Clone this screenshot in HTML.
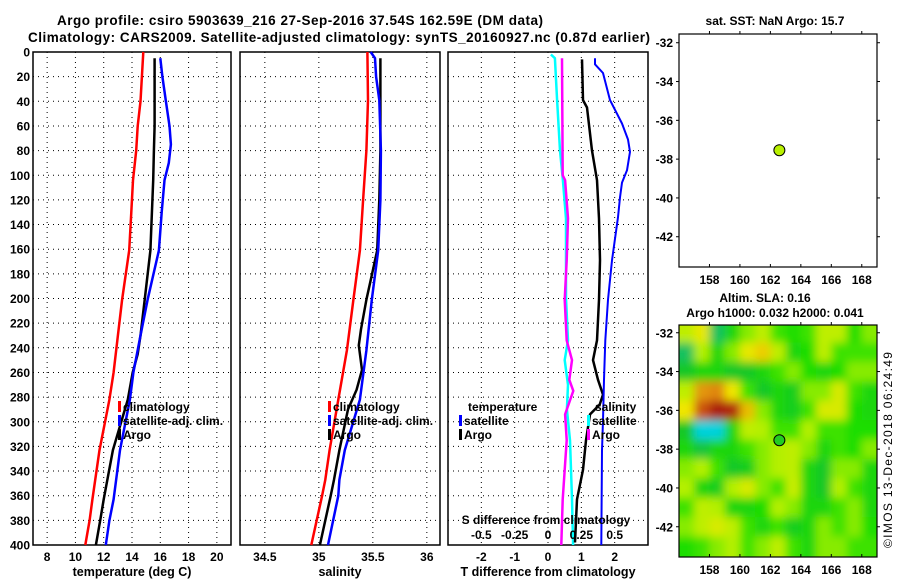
<!DOCTYPE html>
<html><head><meta charset="utf-8">
<style>
html,body{margin:0;padding:0;background:#fff;}
svg{display:block;font-family:"Liberation Sans",sans-serif;font-weight:bold;}
</style></head>
<body>
<svg id="fig" width="900" height="580" viewBox="0 0 900 580" xmlns="http://www.w3.org/2000/svg">
<defs>
<filter id="blur" filterUnits="userSpaceOnUse" x="650" y="295" width="250" height="285"><feGaussianBlur stdDeviation="4.5"/></filter>
<clipPath id="clipMap"><rect x="679" y="325" width="198" height="232"/></clipPath>
</defs>
<text x="57" y="25" font-size="13.5" textLength="486">Argo profile: csiro 5903639_216 27-Sep-2016 37.54S 162.59E (DM data)</text>
<text x="28" y="42" font-size="13.5" textLength="622">Climatology: CARS2009. Satellite-adjusted climatology: synTS_20160927.nc (0.87d earlier)</text>
<text x="775" y="25" font-size="12" text-anchor="middle">sat. SST: NaN Argo: 15.7</text>
<text x="765" y="302" font-size="12" text-anchor="middle">Altim. SLA: 0.16</text>
<text x="775" y="317" font-size="12" text-anchor="middle">Argo h1000: 0.032 h2000: 0.041</text>
<text transform="translate(892,548) rotate(-90)" font-size="12" font-weight="normal" textLength="196">©IMOS 13-Dec-2018 06:24:49</text>
<g id="root"></g>
</svg>
<script>
// ---------- data ----------
const depthTicks = [0,20,40,60,80,100,120,140,160,180,200,220,240,260,280,300,320,340,360,380,400];
const tTicks = [8,10,12,14,16,18,20];
const sTicks = [34.5,35,35.5,36];
const dTicks = [-2,-1,0,1,2];
const sdTickLabels = ["-0.5","-0.25","0","0.25","0.5"];

const tempClimDepth = [0,20,40,60,80,104,130,161,201,230,260,282,323,363,380,400];
const tempClimVal   = [14.8,14.7,14.6,14.4,14.3,14.07,13.95,13.8,13.3,13.0,12.7,12.4,11.7,11.2,11.0,10.7];
const tempArgoDepth = [5,60,80,104,161,201,230,245,260,282,323,363,380,400];
const tempArgoVal   = [15.6,15.6,15.55,15.5,15.3,14.9,14.6,14.4,14.05,13.7,12.65,12.0,11.75,11.45];
const tempSatDepth  = [5,20,40,60,75,90,104,130,161,201,230,260,282,323,363,380,400];
const tempSatVal    = [16.0,16.15,16.4,16.65,16.75,16.6,16.3,16.1,15.9,15.1,14.6,14.1,13.85,13.15,12.7,12.4,12.15];

const salClimDepth = [0,39,80,120,161,201,242,282,323,347,360,400];
const salClimVal   = [35.45,35.455,35.44,35.41,35.38,35.32,35.26,35.18,35.1,35.06,35.03,34.93];
const salArgoDepth = [5,39,80,120,161,181,201,225,238,258,274,290,323,347,360,400];
const salArgoVal   = [35.57,35.57,35.57,35.56,35.54,35.49,35.44,35.39,35.37,35.4,35.35,35.27,35.19,35.14,35.11,35.01];
const salSatDepth  = [0,5,20,39,80,120,161,201,242,282,323,347,360,400];
const salSatVal    = [35.48,35.52,35.53,35.56,35.575,35.57,35.55,35.49,35.44,35.38,35.24,35.19,35.18,35.085];

const dTArgoDepth = [6,39,45,80,104,135,169,201,234,250,266,278,286,294,315,339,363,398];
const dTArgoVal   = [1.02,1.05,1.17,1.32,1.47,1.53,1.56,1.53,1.47,1.35,1.5,1.65,1.55,1.26,1.14,1.05,0.87,0.81];
const dTSatDepth  = [5,10,17,39,58,71,81,96,106,118,134,169,201,234,266,299,323,400];
const dTSatVal    = [1.41,1.41,1.65,1.86,2.22,2.4,2.46,2.37,2.22,2.16,2.1,1.92,1.8,1.72,1.68,1.65,1.62,1.6];
const dSArgoDepth = [5,100,104,135,169,201,234,250,266,275,294,315,363,400];
const dSArgoVal   = [0.105,0.11,0.128,0.15,0.14,0.125,0.14,0.18,0.16,0.19,0.128,0.14,0.11,0.1];
const dSSatDepth  = [2,5,39,80,104,135,200,234,250,270,290,315,363,400];
const dSSatVal    = [0.022,0.052,0.068,0.09,0.112,0.135,0.135,0.15,0.125,0.15,0.142,0.165,0.18,0.188];

const mapLons = [156.5,157.5,158.5,159.5,160.5,161.5,162.5,163.5,164.5,165.5,166.5,167.5,168.5];
const mapLats = [-32,-33,-34,-35,-36,-37,-38,-39,-40,-41,-42,-43];
const slaGrid = [
 [0.2,0.28,-0.05,0.05,0.15,0.2,0.1,0.08,0.1,0.2,0.2,0.08,0.15],
 [-0.05,0.18,0.05,0.15,0.28,0.33,0.2,0.05,0.08,0.2,0.1,0.1,0.1],
 [0.0,0.05,0.05,0.0,0.0,0.05,0.1,0.15,0.08,0.05,0.08,0.15,0.15],
 [0.2,0.4,0.42,0.3,0.1,0.0,0.05,0.02,0.15,0.15,0.25,0.1,0.05],
 [0.3,0.5,0.6,0.58,0.35,0.15,0.05,0.02,0.1,0.25,0.25,0.08,0.05],
 [0.0,-0.2,-0.2,0.05,0.2,0.18,0.1,0.1,0.18,0.1,0.1,0.08,0.08],
 [0.05,-0.02,0.05,0.05,0.1,0.15,0.18,0.2,0.15,0.05,0.1,0.08,0.15],
 [0.15,0.18,0.1,0.0,0.02,0.15,0.18,0.2,0.05,0.0,0.15,0.15,0.05],
 [0.18,0.05,0.02,0.18,0.25,0.15,0.1,0.22,0.05,0.0,0.18,0.1,0.05],
 [0.1,0.2,0.18,0.05,0.05,0.08,0.18,0.15,0.05,0.05,0.1,0.15,0.05],
 [0.15,0.2,0.25,0.2,0.1,0.05,0.1,0.02,0.05,0.15,0.1,0.15,0.08],
 [0.08,0.1,0.15,0.18,0.1,0.15,0.2,0.1,0.05,0.15,0.15,0.1,0.1]
];
const argoLon = 162.59;
const argoLat = -37.54;
const lonTicks = [158,160,162,164,166,168];
const latTicks = [-32,-34,-36,-38,-40,-42];

// ---------- helpers ----------
const NS = "http://www.w3.org/2000/svg";
const root = document.getElementById('root');
function mk(tag, attrs, parent, txt){
  const e = document.createElementNS(NS, tag);
  for (const k in attrs) e.setAttribute(k, attrs[k]);
  if (txt !== undefined) e.textContent = txt;
  (parent || root).appendChild(e);
  return e;
}
const PY0 = 52, PY1 = 545;
const py = d => PY0 + d * (PY1 - PY0) / 400;
const xT = v => 33 + (v - 7) * 198 / 14;
const xS = v => 240 + (v - 34.27) * 108;
const xD = v => 448 + (v + 3) * 200 / 6;
const xDS = v => xD(v * 4);

function panel(name, x0, x1, xs, ticks, tickLbl, title, showDepth){
  const g = mk('g', {});
  
  
  for (const d of depthTicks) {
    if (d === 0 || d === 400) continue;
    const l = mk('line', {x1:x0, x2:x1, y1:py(d), y2:py(d), stroke:'#000', 'stroke-width':1, 'stroke-dasharray':'1,4'}, g);
    
    
  }
  ticks.forEach((t, i) => {
    const x = xs(t);
    const l = mk('line', {x1:x, x2:x, y1:PY0, y2:PY1, stroke:'#000', 'stroke-width':1, 'stroke-dasharray':'1,4'}, g);
    
    
    const tx = mk('text', {x:x, y:561, 'font-size':12, 'text-anchor':'middle'}, g, tickLbl[i]);
    
    
  });
  const fr = mk('rect', {x:x0, y:PY0, width:x1 - x0, height:PY1 - PY0, fill:'none', stroke:'#000', 'stroke-width':1.5}, g);
  
  
  const at = mk('text', {x:(x0 + x1) / 2, y:576, 'font-size':12.5, 'text-anchor':'middle'}, g, title);
  
  
  if (showDepth) {
    for (const d of depthTicks) {
      const tx = mk('text', {x:30, y:py(d) + 4.5, 'font-size':12, 'text-anchor':'end'}, g, String(d));
      
      
    }
  }
  return g;
}
function series(g, name, depths, vals, xs, color, w){
  const pts = depths.map((d, i) => xs(vals[i]).toFixed(1) + ',' + py(d).toFixed(1)).join(' ');
  const p = mk('polyline', {points:pts, fill:'none', stroke:color, 'stroke-width':w || 2.5, 'stroke-linejoin':'round'}, g);
  
  
}
function legendItem(g, name, x, y, color, label){
  if (color) {
    const m = mk('rect', {x:x, y:y - 10, width:3, height:11, fill:color}, g);
    
    
  }
  const t = mk('text', {x:x + 5, y:y, 'font-size':12}, g, label);
  
  
}

// ---------- panel 1: temperature ----------
const g1 = panel('temperature-panel', 33, 231, xT, tTicks, tTicks.map(String), 'temperature (deg C)', true);
series(g1, 'temp-climatology-line', tempClimDepth, tempClimVal, xT, '#ff0000');
series(g1, 'temp-argo-line', tempArgoDepth, tempArgoVal, xT, '#000000');
series(g1, 'temp-satellite-line', tempSatDepth, tempSatVal, xT, '#0000ff');
legendItem(g1, 'legend-climatology', 118, 411, '#ff0000', 'climatology');
legendItem(g1, 'legend-satellite-adj', 118, 425, '#0000ff', 'satellite-adj. clim.');
legendItem(g1, 'legend-argo', 118, 439, '#000000', 'Argo');

// ---------- panel 2: salinity ----------
const g2 = panel('salinity-panel', 240, 440, xS, sTicks, sTicks.map(String), 'salinity', false);
series(g2, 'sal-climatology-line', salClimDepth, salClimVal, xS, '#ff0000');
series(g2, 'sal-argo-line', salArgoDepth, salArgoVal, xS, '#000000');
series(g2, 'sal-satellite-line', salSatDepth, salSatVal, xS, '#0000ff');
legendItem(g2, 'legend-climatology', 328, 411, '#ff0000', 'climatology');
legendItem(g2, 'legend-satellite-adj', 328, 425, '#0000ff', 'satellite-adj. clim.');
legendItem(g2, 'legend-argo', 328, 439, '#000000', 'Argo');

// ---------- panel 3: differences ----------
const g3 = panel('difference-panel', 448, 648, xD, dTicks, dTicks.map(String), 'T difference from climatology', false);
series(g3, 'dS-satellite-line', dSSatDepth, dSSatVal, xDS, '#00ffff');
series(g3, 'dS-argo-line', dSArgoDepth, dSArgoVal, xDS, '#ff00ff');
series(g3, 'dT-argo-line', dTArgoDepth, dTArgoVal, xD, '#000000');
series(g3, 'dT-satellite-line', dTSatDepth, dTSatVal, xD, '#0000ff', 2);
legendItem(g3, 'legend-temperature', 463, 411, null, 'temperature');
legendItem(g3, 'legend-temp-satellite', 459, 425, '#0000ff', 'satellite');
legendItem(g3, 'legend-temp-argo', 459, 439, '#000000', 'Argo');
legendItem(g3, 'legend-salinity', 590, 411, null, 'salinity');
legendItem(g3, 'legend-sal-satellite', 587, 425, '#00ffff', 'satellite');
legendItem(g3, 'legend-sal-argo', 587, 439, '#ff00ff', 'Argo');
const sdt = mk('text', {x:546, y:524, 'font-size':12, 'text-anchor':'middle'}, g3, 'S difference from climatology');


dTicks.forEach((t, i) => {
  const tx = mk('text', {x:xD(t), y:539, 'font-size':12, 'text-anchor':'middle'}, g3, sdTickLabels[i]);
  
  
});

// ---------- maps ----------
const MX0 = 679, MX1 = 877;
const lonX = l => MX0 + (l - 156) * (MX1 - MX0) / 13;
function mapFrame(name, y0, y1, latTop){
  const latY = lat => y0 + (latTop - lat) * 19.4;
  const g = mk('g', {});
  
  
  return {g, latY, y0, y1};
}
function mapAxes(m){
  const {g, latY, y0, y1} = m;
  const fr = mk('rect', {x:MX0, y:y0, width:MX1 - MX0, height:y1 - y0, fill:'none', stroke:'#000', 'stroke-width':1.2}, g);
  
  
  for (const l of lonTicks) {
    const x = lonX(l);
    const a = mk('line', {x1:x, x2:x, y1:y1, y2:y1 - 3, stroke:'#000'}, g);
    
    
    const b = mk('line', {x1:x, x2:x, y1:y0, y2:y0 - 3, stroke:'#000'}, g);
    
    
    const t = mk('text', {x:x, y:y1 + 17, 'font-size':12, 'text-anchor':'middle'}, g, String(l));
    
    
  }
  for (const la of latTicks) {
    const y = latY(la);
    const a = mk('line', {x1:MX0, x2:MX0 - 3, y1:y, y2:y, stroke:'#000'}, g);
    
    
    const b = mk('line', {x1:MX1, x2:MX1 + 3, y1:y, y2:y, stroke:'#000'}, g);
    
    
    const t = mk('text', {x:673, y:y + 4.5, 'font-size':12, 'text-anchor':'end'}, g, String(la));
    
    
  }
}
function argoDot(m, fill){
  const c = mk('circle', {cx:lonX(argoLon), cy:m.latY(argoLat), r:5.5, fill:fill, stroke:'#000', 'stroke-width':1}, m.g);
  
  
}
// SST map (top)
const mTop = mapFrame('sst-map', 34, 267, -31.55);
mapAxes(mTop);
argoDot(mTop, '#b8f000');

// SLA map (bottom)
const mBot = mapFrame('sla-map', 325, 557, -31.6);
const stops = [[-0.2,[0,210,220]],[-0.1,[20,185,150]],[0,[20,200,40]],[0.08,[30,222,0]],[0.18,[180,240,0]],[0.3,[240,230,0]],[0.45,[220,110,10]],[0.6,[170,30,10]]];
function cmap(v){
  if (v <= stops[0][0]) return 'rgb(' + stops[0][1].join(',') + ')';
  for (let i = 1; i < stops.length; i++) {
    if (v <= stops[i][0]) {
      const f = (v - stops[i-1][0]) / (stops[i][0] - stops[i-1][0]);
      const a = stops[i-1][1], b = stops[i][1];
      return 'rgb(' + a.map((c, k) => Math.round(c + (b[k] - c) * f)).join(',') + ')';
    }
  }
  return 'rgb(' + stops[stops.length-1][1].join(',') + ')';
}
const clipG = mk('g', {'clip-path':'url(#clipMap)'}, mBot.g);


const bg = mk('rect', {x:MX0, y:325, width:MX1 - MX0, height:232, fill:cmap(0.1)}, clipG);


const blurG = mk('g', {filter:'url(#blur)'}, clipG);
const cw = (MX1 - MX0) / 13, ch = 19.4;
slaGrid.forEach((row, j) => {
  row.forEach((v, i) => {
    const x = lonX(mapLons[i]) - cw / 2, y = mBot.latY(mapLats[j]) - ch / 2;
    const pad = 10;
    const x0 = i === 0 ? x - pad : x;
    const y0 = j === 0 ? y - pad : y;
    const w = cw + ((i === 0 || i === 12) ? pad : 0) + 0.5;
    const h = ch + ((j === 0 || j === 11) ? pad : 0) + 0.5;
    const r = mk('rect', {x:x0.toFixed(1), y:y0.toFixed(1), width:w.toFixed(1), height:h.toFixed(1), fill:cmap(v)}, blurG);
    
    
  });
});
mapAxes(mBot);
argoDot(mBot, '#22cc22');
</script>
</body></html>
